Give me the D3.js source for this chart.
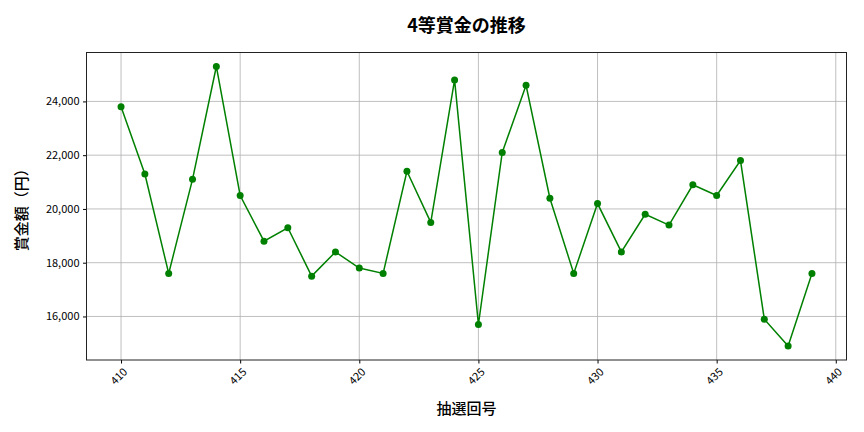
<!DOCTYPE html>
<html>
<head>
<meta charset="utf-8">
<script src="https://cdn.jsdelivr.net/npm/d3@7"></script>
<style>
body { margin: 0; background: #fff; }
text { font-family: "Noto Sans CJK JP", "Noto Sans", sans-serif; fill: #000; }
</style>
</head>
<body>
<script>
// draw numbers (抽選回号) and 4th prize amounts
var draws = [410, 411, 412, 413, 414, 415, 416, 417, 418, 419,
	420, 421, 422, 423, 424, 425, 426, 427, 428, 429,
	430, 431, 432, 433, 434, 435, 436, 437, 438, 439];
var prizes = [23800, 21300, 17600, 21100, 25300, 20500, 18800, 19300, 17500, 18400,
	17800, 17600, 21400, 19500, 24800, 15700, 22100, 24600, 20400, 17600,
	20200, 18400, 19800, 19400, 20900, 20500, 21800, 15900, 14900, 17600];
var xTicks = [410, 415, 420, 425, 430, 435, 440];
var yTicks = [16000, 18000, 20000, 22000, 24000];

var width = 864, height = 432;
var margin = {top: 52.5, right: 17.5, bottom: 72, left: 86.5};

var svg = d3.select(document.body)
	.append("svg")
	.attr("width", width)
	.attr("height", height);

// matplotlib-like 5% padding
var xMin = d3.min(draws), xMax = d3.max(draws);
var xPad = (xMax - xMin) * 0.05;
var yMin = d3.min(prizes), yMax = d3.max(prizes);
var yPad = (yMax - yMin) * 0.05;

var x = d3.scaleLinear()
	.domain([xMin - xPad, xMax + xPad])
	.range([margin.left, width - margin.right]);
var y = d3.scaleLinear()
	.domain([yMin - yPad, yMax + yPad])
	.range([height - margin.bottom, margin.top]);

var fmt = d3.format(",");

// grid
svg.append("g")
	.selectAll("line.gx")
	.data(xTicks)
	.enter().append("line")
	.attr("x1", d => x(d)).attr("x2", d => x(d))
	.attr("y1", margin.top).attr("y2", height - margin.bottom)
	.attr("stroke", "#b0b0b0").attr("stroke-width", 0.8);
svg.append("g")
	.selectAll("line.gy")
	.data(yTicks)
	.enter().append("line")
	.attr("x1", margin.left).attr("x2", width - margin.right)
	.attr("y1", d => y(d)).attr("y2", d => y(d))
	.attr("stroke", "#b0b0b0").attr("stroke-width", 0.8);

// axes
var xAxis = svg.append("g")
	.attr("transform", "translate(0," + (height - margin.bottom) + ")")
	.call(d3.axisBottom(x).tickValues(xTicks).tickSize(3.5).tickPadding(2).tickFormat(d3.format("d")));
xAxis.select(".domain").remove();
xAxis.selectAll("text")
	.style("font-size", "11px")
	.attr("text-anchor", "middle")
	.attr("dy", null)
	.attr("y", 0)
	.attr("transform", "translate(-2,17) rotate(-45)")
	.attr("dominant-baseline", "middle");

var yAxis = svg.append("g")
	.attr("transform", "translate(" + margin.left + ",0)")
	.call(d3.axisLeft(y).tickValues(yTicks).tickSize(3.5).tickPadding(3.5).tickFormat(fmt));
yAxis.select(".domain").remove();
yAxis.selectAll("text").style("font-size", "11px");

// frame
svg.append("rect")
	.attr("x", margin.left).attr("y", margin.top)
	.attr("width", width - margin.left - margin.right)
	.attr("height", height - margin.top - margin.bottom)
	.attr("fill", "none").attr("stroke", "#222").attr("stroke-width", 1);

// line + markers
var line = d3.line()
	.x((d, i) => x(draws[i]))
	.y(d => y(d));
svg.append("path")
	.datum(prizes)
	.attr("d", line)
	.attr("fill", "none")
	.attr("stroke", "green")
	.attr("stroke-width", 1.5);
svg.append("g")
	.selectAll("circle")
	.data(prizes)
	.enter().append("circle")
	.attr("cx", (d, i) => x(draws[i]))
	.attr("cy", d => y(d))
	.attr("r", 3.5)
	.attr("fill", "green");

// titles
var cx = (margin.left + width - margin.right) / 2;
svg.append("text")
	.attr("x", cx).attr("y", 32)
	.attr("text-anchor", "middle")
	.style("font-size", "18px").style("font-weight", "bold")
	.text("4等賞金の推移");
svg.append("text")
	.attr("x", cx).attr("y", 414)
	.attr("text-anchor", "middle")
	.style("font-size", "15px").style("font-weight", "500")
	.text("抽選回号");
svg.append("text")
	.attr("transform", "translate(27," + ((margin.top + height - margin.bottom) / 2) + ") rotate(-90)")
	.attr("text-anchor", "middle")
	.style("font-size", "15px").style("font-weight", "500")
	.text("賞金額（円）");
</script>
</body>
</html>
